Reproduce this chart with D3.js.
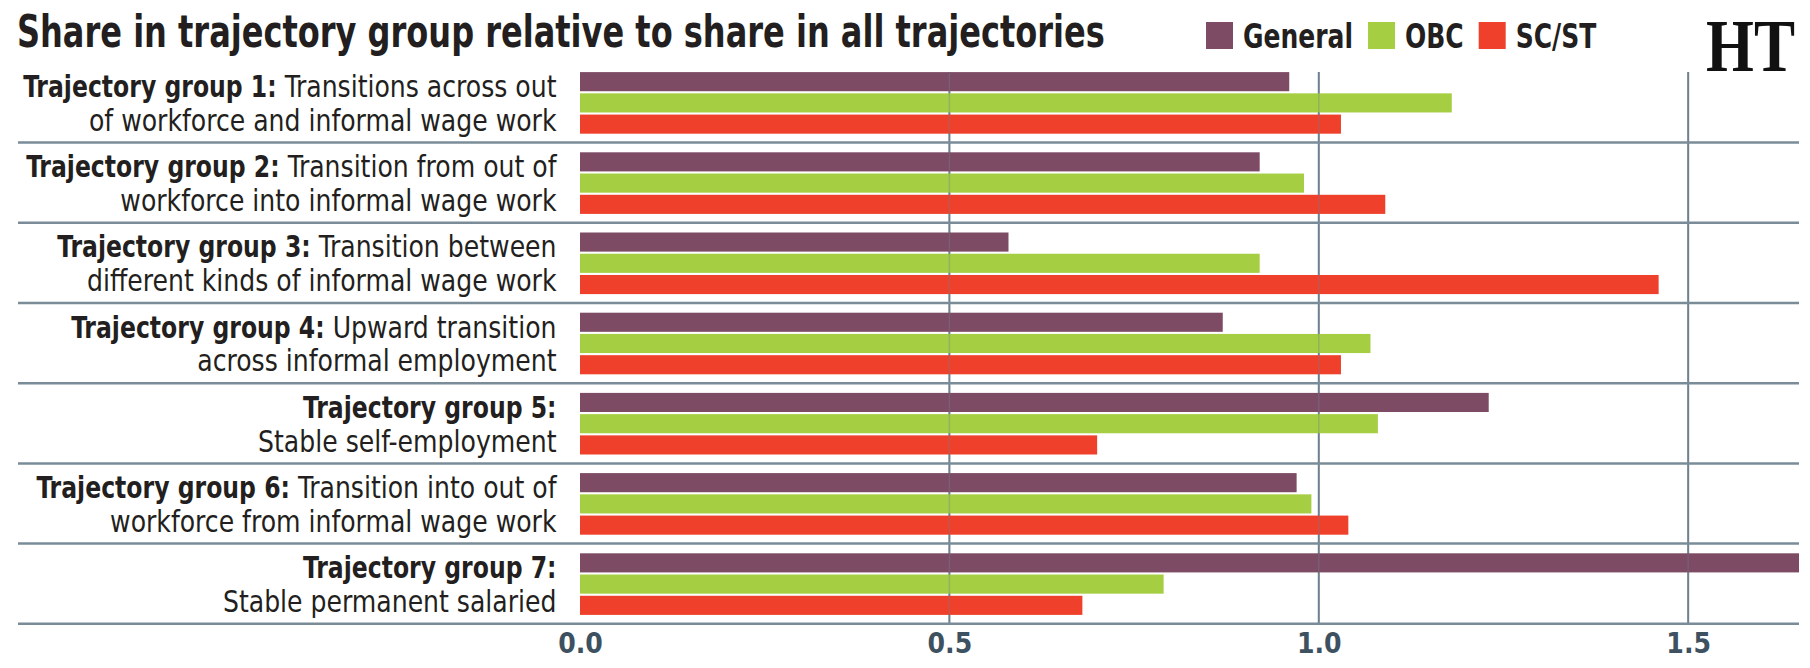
<!DOCTYPE html>
<html><head><meta charset="utf-8">
<script src="https://cdn.jsdelivr.net/npm/d3@7"></script>
<style>body{margin:0;background:#fff} svg{display:block}</style>
</head><body>
<svg id="chart" width="1810" height="668"></svg>
<script>
// ---------- data ----------
const categories = ["Trajectory group 1","Trajectory group 2","Trajectory group 3","Trajectory group 4","Trajectory group 5","Trajectory group 6","Trajectory group 7"];
const labelBold = ["Trajectory group 1:","Trajectory group 2:","Trajectory group 3:","Trajectory group 4:","Trajectory group 5:","Trajectory group 6:","Trajectory group 7:"];
const labelRest = ["Transitions across out","Transition from out of","Transition between","Upward transition","","Transition into out of",""];
const labelLine2 = ["of workforce and informal wage work","workforce into informal wage work","different kinds of informal wage work","across informal employment","Stable self-employment","workforce from informal wage work","Stable permanent salaried"];
const series = ["General","OBC","SC/ST"];
const general = [0.96,0.92,0.58,0.87,1.23,0.97,1.65];
const obc     = [1.18,0.98,0.92,1.07,1.08,0.99,0.79];
const scst    = [1.03,1.09,1.46,1.03,0.70,1.04,0.68];
const tickValues = [0,0.5,1.0,1.5];
const gridValues = [0.5,1.0,1.5];
const colors = ["#7d4b64","#a6ce43","#ee402b"];
const titleText = "Share in trajectory group relative to share in all trajectories";

// ---------- setup ----------
const FONT = "'Liberation Sans Narrow','Arial Narrow','DejaVu Sans Condensed','Liberation Sans',sans-serif";
const svg = d3.select("#chart").style("font-family", FONT);
const values = [general, obc, scst];
const rows = categories.map((c,i)=>({cat:c, vals: series.map((s,j)=>({s, v: values[j][i]}))}));

const x = d3.scaleLinear().domain([0,1.65]).range([580,1799]);
const y = d3.scaleBand().domain(categories).range([62.4,623.8]);
const ySub = d3.scaleBand().domain(series).range([9.7,71.3]).paddingInner(0.1);
const color = d3.scaleOrdinal().domain(series).range(colors);
const gridColor = "#6f8290";
const LABEL_SIZE = 30;

function measure(str, weight, size, family){
  const t = svg.append("text").attr("font-size",size).attr("font-weight",weight).text(str);
  if (family) t.attr("font-family", family);
  const w = t.node().getComputedTextLength(); t.remove(); return w;
}
const sxReg = 469.5 / measure("different kinds of informal wage work", 400, LABEL_SIZE);
const sxBold = 253.5 / measure("Trajectory group 3:", 700, LABEL_SIZE);

// ---------- gridlines (behind) ----------
svg.append("g").selectAll("line").data(gridValues).join("line")
  .attr("x1", d=>x(d)).attr("x2", d=>x(d))
  .attr("y1", y(categories[0]) + ySub.range()[0]).attr("y2", y.range()[1])
  .attr("stroke", gridColor).attr("stroke-width", 2);

// ---------- bars ----------
const groups = svg.append("g").selectAll("g").data(rows).join("g")
  .attr("transform", d=>`translate(0,${y(d.cat)})`);
groups.selectAll("rect").data(d=>d.vals).join("rect")
  .attr("x", x(0))
  .attr("y", d=>ySub(d.s))
  .attr("width", d=>Math.min(x(d.v), x.range()[1]) - x(0))
  .attr("height", ySub.bandwidth())
  .attr("fill", d=>color(d.s));

// ---------- gridlines (faint over bars) ----------
svg.append("g").selectAll("line").data(gridValues).join("line")
  .attr("x1", d=>x(d)).attr("x2", d=>x(d))
  .attr("y1", y(categories[0]) + ySub.range()[0]).attr("y2", y.range()[1])
  .attr("stroke", gridColor).attr("stroke-width", 1.5).attr("stroke-opacity", 0.35);

// ---------- separators ----------
svg.append("g").selectAll("line").data(categories).join("line")
  .attr("x1", 18).attr("x2", x.range()[1])
  .attr("y1", d=>y(d)+y.step()).attr("y2", d=>y(d)+y.step())
  .attr("stroke", "#7a8c98").attr("stroke-width", 2.5);

// ---------- category labels (one text element per group) ----------
const xR = 556.5;
const lab = svg.append("g").attr("fill", "#231f20").attr("font-size", LABEL_SIZE);
categories.forEach((c,i)=>{
  const top = y(c);
  const t = lab.append("text").attr("text-anchor","end")
    .attr("transform", `translate(${xR},${top + 34.6}) scale(${sxReg},1)`);
  const boldLen = measure(labelBold[i], 700, LABEL_SIZE) * sxBold / sxReg;
  t.append("tspan").attr("x", 0).attr("font-weight", 700)
    .attr("textLength", boldLen).attr("lengthAdjust", "spacingAndGlyphs")
    .text(labelBold[i]);
  if (labelRest[i]) {
    t.append("tspan").attr("font-weight", 400).text(" " + labelRest[i]);
  }
  t.append("tspan").attr("x", 0).attr("dy", 33.8).attr("font-weight", 400).text(labelLine2[i]);
});

// ---------- x axis labels ----------
const axis = svg.append("g").attr("transform", `translate(0,${y.range()[1]})`)
  .call(d3.axisBottom(x).tickValues(tickValues).tickFormat(d3.format(".1f")).tickSize(0));
axis.select(".domain").remove();
axis.selectAll("text").attr("y", 29).attr("dy", null)
  .attr("font-size", 28).attr("font-weight", 700).attr("fill", "#3d5160")
  .style("font-family", FONT);

// ---------- title ----------
const titleSx = 1088 / measure(titleText, 700, 44);
svg.append("text").attr("transform", `translate(17,46.7) scale(${titleSx},1)`)
  .attr("font-size", 44).attr("font-weight", 700).attr("fill", "#231f20")
  .text(titleText);

// ---------- legend ----------
const leg = svg.append("g");
let lx = 1206;
series.forEach((s,i)=>{
  leg.append("rect").attr("x", lx).attr("y", 22).attr("width", 27).attr("height", 27).attr("fill", color(s));
  const t = leg.append("text").attr("font-size", 34).attr("font-weight", 700).attr("fill", "#231f20")
    .attr("transform", `translate(${lx+37},47.7) scale(${sxBold * LABEL_SIZE / 32},1)`).text(s);
  lx = lx + 37 + t.node().getComputedTextLength()*sxBold*LABEL_SIZE/32 + 15;
});

// ---------- HT logo ----------
const LOGOFONT = "'Liberation Serif','DejaVu Serif',serif";
const logoSx = 89 / measure("HT", 700, 74, LOGOFONT);
svg.append("text").attr("transform", `translate(1706,71) scale(${logoSx},1)`)
  .attr("font-family", LOGOFONT).attr("font-weight", 700)
  .attr("font-size", 74).attr("fill", "#111").text("HT");
</script>
</body></html>
